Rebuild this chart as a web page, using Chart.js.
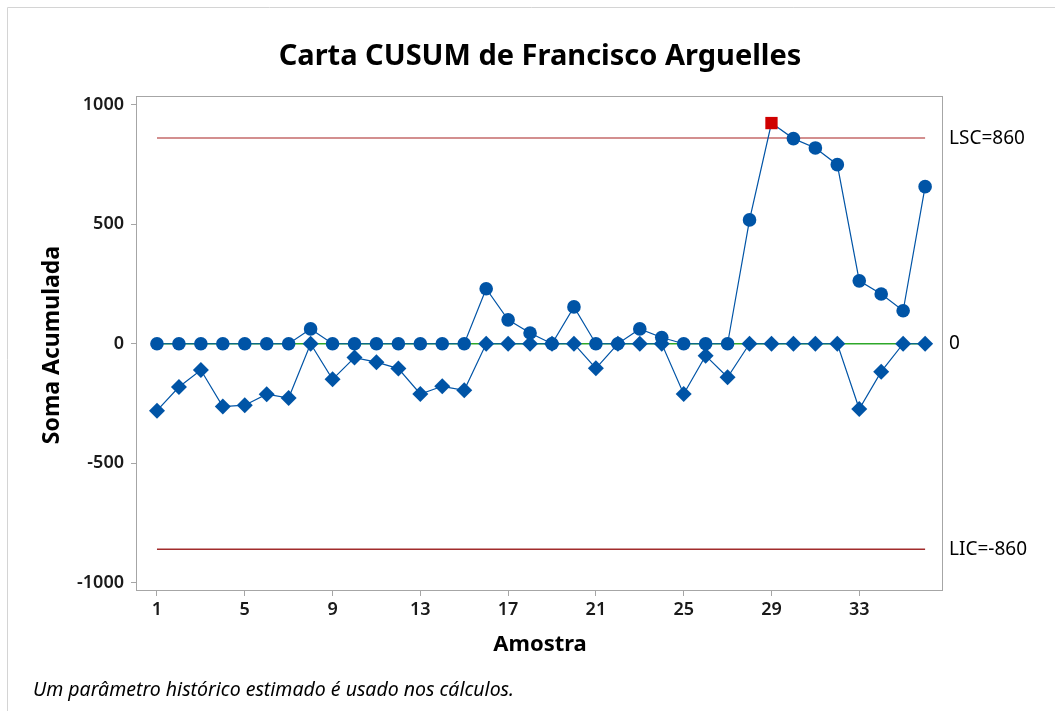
<!DOCTYPE html>
<html>
<head>
<meta charset="utf-8">
<script src="https://cdn.jsdelivr.net/npm/chart.js@4.4.0/dist/chart.umd.min.js"></script>
<style>
  html, body { margin: 0; padding: 0; background: #fff; }
  canvas { display: block; }
</style>
</head>
<body>
<canvas id="cusum" width="1055" height="711"></canvas>
<script>
const amostras = [1, 2, 3, 4, 5, 6, 7, 8, 9, 10, 11, 12, 13, 14, 15, 16, 17, 18,
                  19, 20, 21, 22, 23, 24, 25, 26, 27, 28, 29, 30, 31, 32, 33, 34, 35, 36];
const cusumSuperior = [0, 0, 0, 0, 0, 0, 0, 62, 0, 0, 0, 0, 0, 0, 0, 230, 100, 45,
                       0, 154, 0, 0, 62, 26, 0, 0, 0, 518, 923, 858, 819, 749, 263, 208, 138, 657];
const cusumInferior = [-280, -181, -110, -263, -257, -211, -227, 0, -149, -58, -77, -104, -210, -178, -195, 0, 0, 0,
                       0, 0, -103, 0, 0, 0, -210, -50, -140, 0, 0, 0, 0, 0, -273, -117, 0, 0];
const LSC = 860;
const LIC = -860;
const centro = 0;
const foraDeControle = [29]; // amostras acima do LSC
const ticksX = [1, 5, 9, 13, 17, 21, 25, 29, 33];
const ticksY = [-1000, -500, 0, 500, 1000];

const fonte = "'Noto Sans', 'Open Sans', sans-serif";
const azul = '#0054a6';

function pontos(valores) {
    return valores.map((v, i) => ({ x: amostras[i], y: v }));
}
function linhaHorizontal(valor) {
    return [{ x: amostras[0], y: valor }, { x: amostras[amostras.length - 1], y: valor }];
}

// textos, moldura e borda da area do grafico
const decoracao = {
    id: 'decoracao',
    afterDraw(chart) {
        const { ctx, chartArea: a, scales: { y } } = chart;
        ctx.save();
        ctx.strokeStyle = '#d4d4d4';
        ctx.lineWidth = 1;
        ctx.beginPath();
        ctx.moveTo(7.5, 711);
        ctx.lineTo(7.5, 7.5);
        ctx.lineTo(1055, 7.5);
        ctx.stroke();

        ctx.strokeStyle = '#a6a6a6';
        ctx.strokeRect(a.left - 0.5, a.top - 0.5, a.right - a.left + 1, a.bottom - a.top + 1);

        ctx.fillStyle = '#000';
        ctx.textAlign = 'center';
        ctx.textBaseline = 'middle';
        ctx.font = "bold 29px " + fonte;
        ctx.fillText('Carta CUSUM de Francisco Arguelles', 540, 57);

        ctx.font = "bold 22px " + fonte;
        ctx.fillText('Amostra', 540, 645);
        ctx.save();
        ctx.translate(52, 345);
        ctx.rotate(-Math.PI / 2);
        ctx.font = "bold 23px " + fonte;
        ctx.fillText('Soma Acumulada', 0, 0);
        ctx.restore();

        ctx.textAlign = 'left';
        ctx.font = "19px " + fonte;
        ctx.fillText('LSC=' + LSC, a.right + 7, y.getPixelForValue(LSC));
        ctx.fillText(String(centro), a.right + 7, y.getPixelForValue(centro));
        ctx.fillText('LIC=' + LIC, a.right + 7, y.getPixelForValue(LIC));

        ctx.font = "italic 19.5px " + fonte;
        ctx.fillText('Um parâmetro histórico estimado é usado nos cálculos.', 33, 690);
        ctx.restore();
    }
};

new Chart(document.getElementById('cusum'), {
    type: 'line',
    data: {
        datasets: [
            {
                label: 'CUSUM inferior',
                data: pontos(cusumInferior),
                borderColor: azul,
                backgroundColor: azul,
                borderWidth: 1.2,
                pointStyle: 'rectRot',
                pointRadius: 8,
                pointBorderWidth: 0,
                order: 1
            },
            {
                label: 'CUSUM superior',
                data: pontos(cusumSuperior),
                borderColor: azul,
                borderWidth: 1.2,
                pointStyle: ctx => foraDeControle.includes(ctx.raw && ctx.raw.x) ? 'rect' : 'circle',
                pointRadius: ctx => foraDeControle.includes(ctx.raw && ctx.raw.x) ? 8.7 : 6.8,
                pointBackgroundColor: ctx => foraDeControle.includes(ctx.raw && ctx.raw.x) ? '#d00000' : azul,
                pointBorderWidth: 0,
                order: 2
            },
            {
                label: 'Centro',
                data: linhaHorizontal(centro),
                borderColor: '#2ea82a',
                borderWidth: 1.5,
                pointRadius: 0,
                order: 5
            },
            {
                label: 'LSC',
                data: linhaHorizontal(LSC),
                borderColor: '#c46a6a',
                borderWidth: 1.5,
                pointRadius: 0,
                order: 4
            },
            {
                label: 'LIC',
                data: linhaHorizontal(LIC),
                borderColor: '#a12c2c',
                borderWidth: 1.5,
                pointRadius: 0,
                order: 4
            }
        ]
    },
    options: {
        responsive: false,
        animation: false,
        devicePixelRatio: 1,
        layout: { padding: { left: 0, right: 113, top: 97, bottom: 81 } },
        plugins: {
            legend: { display: false },
            tooltip: { enabled: false }
        },
        elements: { line: { tension: 0 } },
        scales: {
            x: {
                type: 'linear',
                min: 0.09,
                max: 36.77,
                afterFit: s => { s.height = 40; },
                afterBuildTicks: s => { s.ticks = ticksX.map(v => ({ value: v })); },
                border: { display: false },
                grid: { drawOnChartArea: false, drawTicks: true, tickLength: 6, color: '#a6a6a6' },
                ticks: {
                    padding: 3,
                    autoSkip: false,
                    maxRotation: 0,
                    color: '#1a1a1a',
                    font: { family: fonte, size: 18, weight: '600' }
                }
            },
            y: {
                min: -1030,
                max: 1032,
                afterFit: s => { s.width = 137; },
                afterBuildTicks: s => { s.ticks = ticksY.map(v => ({ value: v })); },
                border: { display: false },
                grid: { drawOnChartArea: false, drawTicks: true, tickLength: 6, color: '#a6a6a6' },
                ticks: {
                    padding: 7,
                    color: '#1a1a1a',
                    font: { family: fonte, size: 18, weight: '600' },
                    callback: v => String(v)
                }
            }
        }
    },
    plugins: [decoracao]
});
</script>
</body>
</html>
